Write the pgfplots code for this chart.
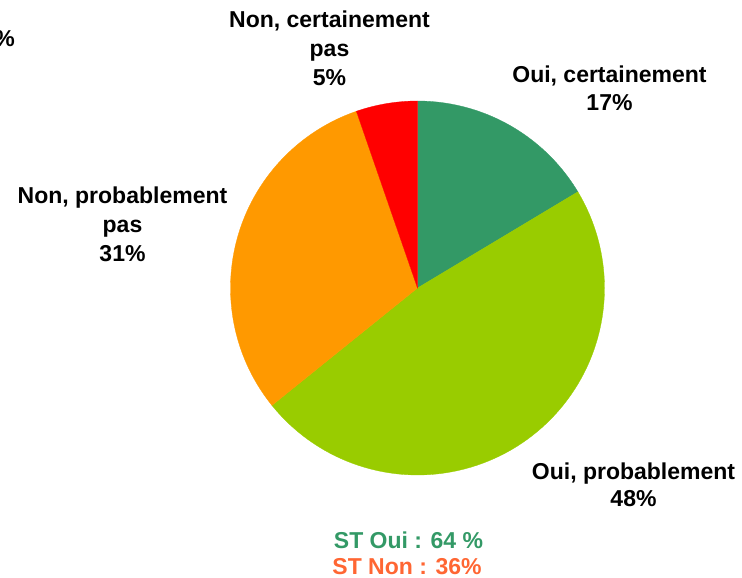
\documentclass[border=0pt]{standalone}
\usepackage{pgfplots}
\pgfplotsset{compat=1.18}
\usepackage{pgfplotstable}
\usepackage{fontspec}
\setmainfont{Liberation Sans}
\definecolor{cOuiC}{RGB}{51,153,102}
\definecolor{cOuiP}{RGB}{153,204,0}
\definecolor{cNonP}{RGB}{255,153,0}
\definecolor{cNonC}{RGB}{255,0,0}
\definecolor{cSTNon}{RGB}{255,102,51}

% share (%) of each slice, clockwise from 12 o'clock
\pgfplotstableread{
slice value
1 16.4
2 47.8
3 30.5
4 5.3
}\piedata

\begin{document}
\begin{tikzpicture}[x=1bp,y=1bp]
\useasboundingbox (0,0) rectangle (742bp,578bp);
\pgfplotstablegetelem{0}{value}\of\piedata \let\vA\pgfplotsretval
\pgfplotstablegetelem{1}{value}\of\piedata \let\vB\pgfplotsretval
\pgfplotstablegetelem{2}{value}\of\piedata \let\vC\pgfplotsretval
\pgfplotstablegetelem{3}{value}\of\piedata \let\vD\pgfplotsretval
\pgfmathsetmacro{\aA}{90}
\pgfmathsetmacro{\aB}{\aA-3.6*\vA}
\pgfmathsetmacro{\aC}{\aB-3.6*\vB}
\pgfmathsetmacro{\aD}{\aC-3.6*\vC}
\pgfmathsetmacro{\aE}{\aD-3.6*\vD}
\def\cx{417.5}\def\cy{288}\def\rr{187}
\begin{axis}[at={(0,0)}, anchor=south west, scale only axis,
  width=742bp, height=578bp, xmin=0, xmax=742, ymin=0, ymax=578,
  y dir=reverse, hide axis, clip=false,
  every axis plot/.append style={line width=0.3bp, samples=90}]
\addplot[fill=cOuiC, draw=cOuiC, domain=\aB:\aA] ({\cx+\rr*cos(x)},{\cy-\rr*sin(x)}) -- (axis cs:\cx,\cy) -- cycle;
\addplot[fill=cOuiP, draw=cOuiP, domain=\aC:\aB] ({\cx+\rr*cos(x)},{\cy-\rr*sin(x)}) -- (axis cs:\cx,\cy) -- cycle;
\addplot[fill=cNonP, draw=cNonP, domain=\aD:\aC] ({\cx+\rr*cos(x)},{\cy-\rr*sin(x)}) -- (axis cs:\cx,\cy) -- cycle;
\addplot[fill=cNonC, draw=cNonC, domain=\aE:\aD] ({\cx+\rr*cos(x)},{\cy-\rr*sin(x)}) -- (axis cs:\cx,\cy) -- cycle;

\tikzset{lab/.style={font=\bfseries\fontsize{23bp}{28bp}\selectfont, inner sep=0pt, anchor=base}}
% cut-off label at top left
\node[lab, anchor=base east] at (axis cs:15,47) {12\%};
% Non, certainement pas
\node[lab] at (axis cs:329.5,28) {Non, certainement};
\node[lab] at (axis cs:329.5,57) {pas};
\node[lab] at (axis cs:329.5,86) {5\%};
% Oui, certainement
\node[lab] at (axis cs:609.5,83) {Oui, certainement};
\node[lab] at (axis cs:609.5,111) {17\%};
% Non, probablement pas
\node[lab] at (axis cs:122.5,203) {Non, probablement};
\node[lab] at (axis cs:122.5,232) {pas};
\node[lab] at (axis cs:122.5,261) {31\%};
% Oui, probablement
\node[lab] at (axis cs:633.5,479) {Oui, probablement};
\node[lab] at (axis cs:633.5,506) {48\%};
% totals
\node[lab, text=cOuiC] at (axis cs:408.5,548) {ST Oui : 64 \%};
\node[lab, text=cSTNon] at (axis cs:407,574) {ST Non : 36\%};
\end{axis}
\end{tikzpicture}
\end{document}
